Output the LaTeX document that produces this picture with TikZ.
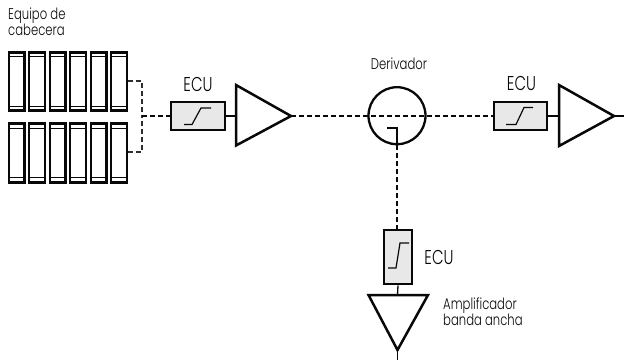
\documentclass[tikz,border=0pt]{standalone}
\usepackage{fontspec}
\setmainfont{Poppins}[UprightFont=* Light,FakeStretch=0.75]
\definecolor{boxfill}{gray}{0.91}
\definecolor{ink}{gray}{0.03}
\tikzset{
  lbl/.style={inner sep=0pt,text=ink,font=\fontsize{15.5pt}{16pt}\selectfont,align=left},
  biglbl/.style={inner sep=0pt,text=ink,font=\fontsize{20pt}{20pt}\selectfont},
  ecubox/.style={draw=ink,line width=2.6pt,fill=boxfill,inner sep=0pt},
  modbox/.style={draw=ink,line width=2.6pt,fill=white,inner sep=0pt,minimum width=15.8pt,minimum height=58.5pt},
  wire/.style={draw=ink,line width=1.3pt},
  dashwire/.style={draw=ink,line width=1.3pt,dash pattern=on 4.5pt off 3.5pt},
  rackwire/.style={draw=ink!85,line width=1.05pt,dash pattern=on 4.5pt off 3.5pt},
  amp/.style={draw=ink,line width=2.5pt,fill=white,line join=miter},
  curve/.style={draw=ink,line width=1.2pt},
  modrule/.style={draw=ink,line width=1pt}
}
\begin{document}
\begin{tikzpicture}[x=1pt,y=-1pt]
\useasboundingbox (0,0) rectangle (624,360);
% rack modules
\foreach \i/\cx in {1/16.7,2/37,3/57.7,4/78,5/98.7,6/119}{
  \node[modbox] (t\i) at (\cx,81.5) {};
  \draw[modrule] ([yshift=-6pt]t\i.north west) -- ([yshift=-6pt]t\i.north east);
  \draw[modrule] ([yshift=6pt]t\i.south west) -- ([yshift=6pt]t\i.south east);
  \node[modbox] (b\i) at (\cx,153) {};
  \draw[modrule] ([yshift=-6pt]b\i.north west) -- ([yshift=-6pt]b\i.north east);
  \draw[modrule] ([yshift=6pt]b\i.south west) -- ([yshift=6pt]b\i.south east);
}
\node[lbl,anchor=north west] (eq) at (8,8) {Equipo de\\cabecera};
% boxes
\node[ecubox,minimum width=54pt,minimum height=28pt] (e1) at (198,116) {};
\node[ecubox,minimum width=53pt,minimum height=28pt] (e2) at (520.5,116) {};
\node[ecubox,minimum width=28pt,minimum height=54pt] (e3) at (398,257) {};
\node[biglbl] (l1) at (198,84.5) {ECU};
\node[biglbl] (l2) at (521.5,83) {ECU};
\node[biglbl] (l3) at (439,257) {ECU};
\node[lbl] (der) at (399,64) {Derivador};
\node[lbl,anchor=north west] (amp) at (443,298) {Amplificador\\banda ancha};
% splitter
\node[draw=ink,line width=2.3pt,circle,minimum size=57pt,inner sep=0pt] (d) at (397,115.7) {};
% amplifier points
\coordinate (a1in) at (236,116);
\coordinate (a1out) at (291,116);
\coordinate (a2in) at (559,116);
\coordinate (a2out) at (614,116);
\coordinate (a3in) at (397.5,295);
\coordinate (a3out) at (397.5,350);
\coordinate (end2) at (624,116);
\coordinate (end3) at (397.5,360);
\coordinate (jn) at (142,116);
\coordinate (tap) at (397,128);
\coordinate (tapl) at (387,128);
% connectors
\draw[rackwire] (t6.east |- 0,81) -| (jn);
\draw[rackwire] (b6.east |- 0,152) -| (jn);
\draw[dashwire] (jn) -- (e1.west);
\draw[dashwire] (a1out) -- (e2.west);
\draw[wire] (tapl) -- (tap) -- (d.south);
\draw[dashwire] (d.south) -- (d.south |- e3.north);
\draw[wire] (e1.east) -- (a1in);
\draw[wire] (e2.east) -- (a2in);
\draw[wire] (e3.south) -- (a3in);
\draw[wire] (a2out) -- (end2);
\draw[wire] (a3out) -- (end3);
% amplifiers
\draw[amp] (236,85) -- (a1out) -- (236,145.5) -- cycle;
\draw[amp] (559,85) -- (a2out) -- (559,146) -- cycle;
\draw[amp] (368.5,295) -- (a3out) -- (428,295) -- cycle;
% limiter curves
\draw[curve] (184,124.5) -- (192,124.5) -- (201,108) -- (211,108);
\draw[curve] (506,124.5) -- (516,124.5) -- (524,107.5) -- (533,107.5);
\draw[curve] (388,268) -- (396,268) -- (400,243) -- (409,243);
\end{tikzpicture}
\end{document}
